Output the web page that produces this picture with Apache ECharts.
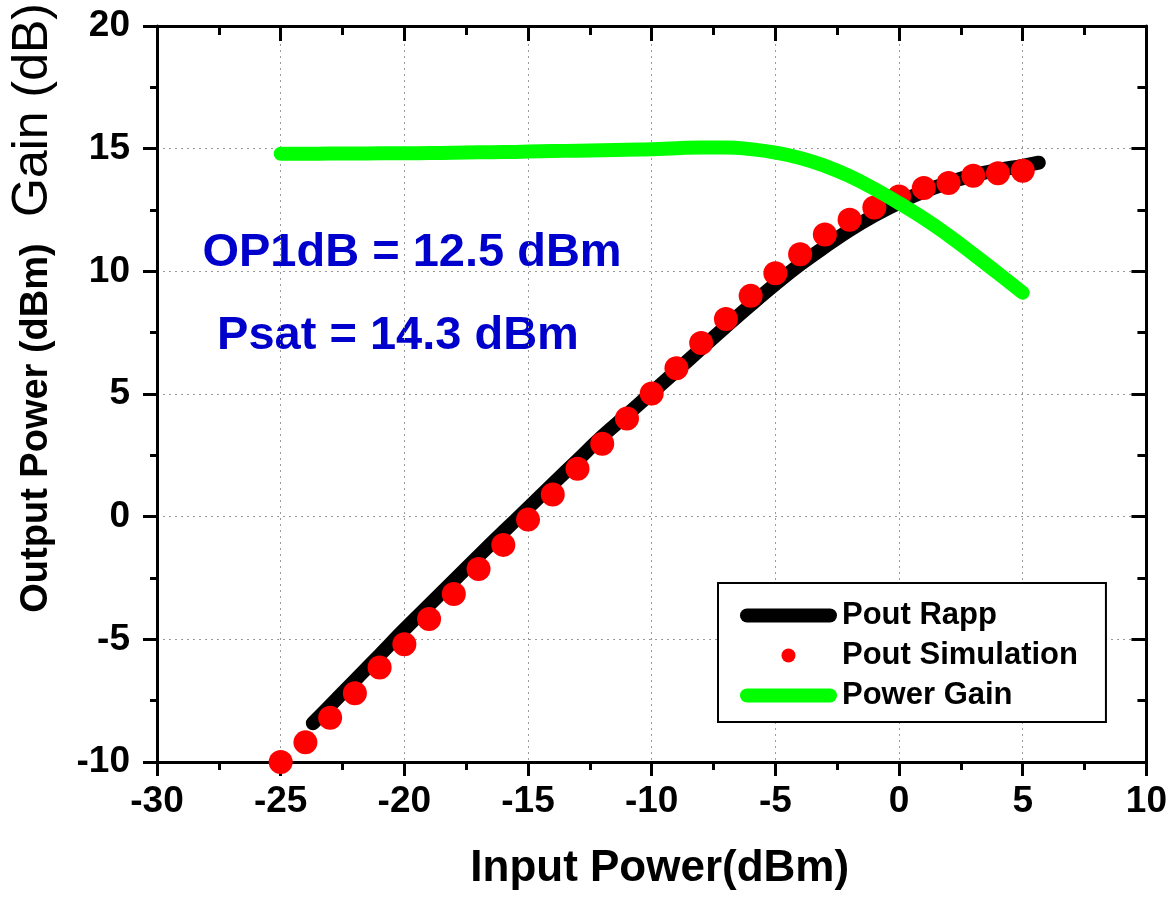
<!DOCTYPE html>
<html>
<head>
<meta charset="utf-8">
<script src="https://cdn.jsdelivr.net/npm/echarts@6/dist/echarts.min.js"></script>
<style>
  html, body { margin: 0; padding: 0; background: #fff; }
  #chart { width: 1170px; height: 899px; }
</style>
</head>
<body>
<div id="chart"></div>
<script>
// ---- data ----
var xTicks = [-30, -25, -20, -15, -10, -5, 0, 5, 10];
var yTicks = [-10, -5, 0, 5, 10, 15, 20];

var simInput = [-25, -24, -23, -22, -21, -20, -19, -18, -17, -16, -15, -14, -13, -12, -11, -10,
                -9, -8, -7, -6, -5, -4, -3, -2, -1, 0, 1, 2, 3, 4, 5];
var simPout  = [-10.0, -9.2, -8.2, -7.2, -6.15, -5.2, -4.17, -3.15, -2.13, -1.15, -0.12, 0.9, 1.95, 2.97, 4.0, 5.02,
                6.05, 7.08, 8.06, 9.0, 9.92, 10.7, 11.5, 12.1, 12.6, 13.05, 13.4, 13.6, 13.9, 14.0, 14.1];

var rappInput = [-23.7, -23, -22, -21, -20, -19, -18, -17, -16, -15, -14, -13, -12, -11, -10,
                 -9, -8, -7, -6, -5, -4, -3, -2, -1, 0, 1, 2, 3, 4, 5, 5.65];
var rappPout  = [-8.42, -7.7, -6.67, -5.64, -4.6, -3.6, -2.6, -1.6, -0.62, 0.35, 1.33, 2.3, 3.27, 4.15, 5.05,
                 5.95, 6.85, 7.75, 8.63, 9.48, 10.28, 11.0, 11.68, 12.28, 12.8, 13.25, 13.62, 13.92, 14.13, 14.3, 14.43];

var gainInput = [-25, -24, -23, -22, -21, -20, -19, -18, -17, -16, -15, -14, -13, -12, -11, -10,
                 -9, -8, -7, -6, -5, -4, -3, -2, -1, 0, 1, 2, 3, 4, 5];
var gainDb    = [14.79, 14.79, 14.8, 14.8, 14.81, 14.81, 14.82, 14.83, 14.85, 14.86, 14.88, 14.9, 14.92, 14.94, 14.96, 14.98,
                 15.02, 15.05, 15.05, 14.98, 14.84, 14.62, 14.3, 13.88, 13.36, 12.78, 12.16, 11.46, 10.7, 9.92, 9.13];

var seriesNames = ['Pout Rapp', 'Pout Simulation', 'Power Gain'];
var annotations = ['OP1dB = 12.5 dBm', 'Psat = 14.3 dBm'];
var xTitle = 'Input Power(dBm)';
var yTitleA = 'Output Power (dBm)';
var yTitleB = 'Gain (dB)';

function pairs(xs, ys) { return xs.map(function (x, i) { return [x, ys[i]]; }); }

var FONT = "'Liberation Sans', Arial, sans-serif";
var chart = echarts.init(document.getElementById('chart'));

var baseAxisLine = { show: true, onZero: false, lineStyle: { color: '#000', width: 3 } };
var capsule = 'path://M7,0H90A7,7,0,0,1,90,14H7A7,7,0,0,1,7,0Z';

var option = {
  backgroundColor: '#fff',
  animation: false,
  grid: { left: 157, right: 18, top: 26, bottom: 137, containLabel: false },
  legend: {
    left: 718, top: 583,
    orient: 'vertical',
    padding: [17, 28, 11, 22],
    borderColor: '#000', borderWidth: 2,
    backgroundColor: '#fff',
    itemWidth: 97, itemHeight: 14, itemGap: 9,
    textStyle: { fontFamily: FONT, fontWeight: 'bold', fontSize: 31, color: '#000', lineHeight: 31 },
    data: [
      { name: seriesNames[0], icon: capsule, itemStyle: { color: '#000', borderWidth: 0 } },
      { name: seriesNames[1], icon: 'circle', itemStyle: { color: '#ff0000', borderWidth: 0, opacity: 1 } },
      { name: seriesNames[2], icon: capsule, itemStyle: { color: '#00ff00', borderWidth: 0 } }
    ]
  },
  xAxis: [
    {
      type: 'value', position: 'bottom',
      min: xTicks[0], max: xTicks[xTicks.length - 1], interval: 5,
      axisLine: baseAxisLine,
      axisTick: { show: true, inside: false, length: 14, lineStyle: { color: '#000', width: 3 } },
      minorTick: { show: true, splitNumber: 2, length: 8, lineStyle: { color: '#000', width: 3 } },
      axisLabel: { margin: 21, fontFamily: FONT, fontWeight: 'bold', fontSize: 37, color: '#000' },
      splitLine: { show: true, lineStyle: { color: '#9a9a9a', width: 1, type: [2, 4] } },
      name: xTitle, nameLocation: 'middle', nameGap: 85,
      nameTextStyle: { fontFamily: FONT, fontWeight: 'bold', fontSize: 44, color: '#000', padding: [0, 0, 0, 16] }
    },
    {
      type: 'value', position: 'top',
      min: xTicks[0], max: xTicks[xTicks.length - 1], interval: 5,
      axisLine: baseAxisLine,
      axisTick: { show: true, inside: true, length: 15, lineStyle: { color: '#000', width: 3 } },
      minorTick: { show: true, splitNumber: 2, length: 9, lineStyle: { color: '#000', width: 3 } },
      axisLabel: { show: false },
      splitLine: { show: false }
    }
  ],
  yAxis: [
    {
      type: 'value', position: 'left',
      min: yTicks[0], max: yTicks[yTicks.length - 1], interval: 5,
      axisLine: baseAxisLine,
      axisTick: { show: true, inside: false, length: 14, lineStyle: { color: '#000', width: 3 } },
      minorTick: { show: true, splitNumber: 2, length: 7, lineStyle: { color: '#000', width: 3 } },
      axisLabel: { margin: 27, fontFamily: FONT, fontWeight: 'bold', fontSize: 37, color: '#000' },
      splitLine: { show: true, lineStyle: { color: '#9a9a9a', width: 1, type: [2, 4] } }
    },
    {
      type: 'value', position: 'right',
      min: yTicks[0], max: yTicks[yTicks.length - 1], interval: 5,
      axisLine: baseAxisLine,
      axisTick: { show: true, inside: true, length: 15, lineStyle: { color: '#000', width: 3 } },
      minorTick: { show: true, splitNumber: 2, length: 9, lineStyle: { color: '#000', width: 3 } },
      axisLabel: { show: false },
      splitLine: { show: false }
    }
  ],
  series: [
    {
      name: seriesNames[0], type: 'line', xAxisIndex: 0, yAxisIndex: 0,
      data: pairs(rappInput, rappPout),
      smooth: 0.4, showSymbol: false, symbol: 'none',
      color: '#000',
      lineStyle: { color: '#000', width: 14, cap: 'round', join: 'round' },
      z: 2
    },
    {
      name: seriesNames[1], type: 'scatter', xAxisIndex: 0, yAxisIndex: 0,
      data: pairs(simInput, simPout),
      symbol: 'circle', symbolSize: 24,
      color: '#ff0000',
      itemStyle: { color: '#ff0000', opacity: 1 },
      z: 3
    },
    {
      name: seriesNames[2], type: 'line', xAxisIndex: 0, yAxisIndex: 0,
      data: pairs(gainInput, gainDb),
      smooth: 0.5, showSymbol: false, symbol: 'none',
      color: '#00ff00',
      lineStyle: { color: '#00ff00', width: 14, cap: 'round', join: 'round' },
      z: 4
    }
  ],
  graphic: [
    {
      type: 'text', x: 412, y: 253,
      style: { text: annotations[0], fill: '#0000cc', font: "bold 47px " + FONT, textAlign: 'center', textVerticalAlign: 'middle' }
    },
    {
      type: 'text', x: 398, y: 336,
      style: { text: annotations[1], fill: '#0000cc', font: "bold 47px " + FONT, textAlign: 'center', textVerticalAlign: 'middle' }
    },
    {
      type: 'text', x: 37, y: 428, rotation: Math.PI / 2,
      style: { text: yTitleA, fill: '#000', font: "bold 38px " + FONT, textAlign: 'center', textVerticalAlign: 'middle' }
    },
    {
      type: 'text', x: 33, y: 110, rotation: Math.PI / 2,
      style: { text: yTitleB, fill: '#000', font: "50px " + FONT, textAlign: 'center', textVerticalAlign: 'middle' }
    }
  ]
};

chart.setOption(option);
</script>
</body>
</html>
